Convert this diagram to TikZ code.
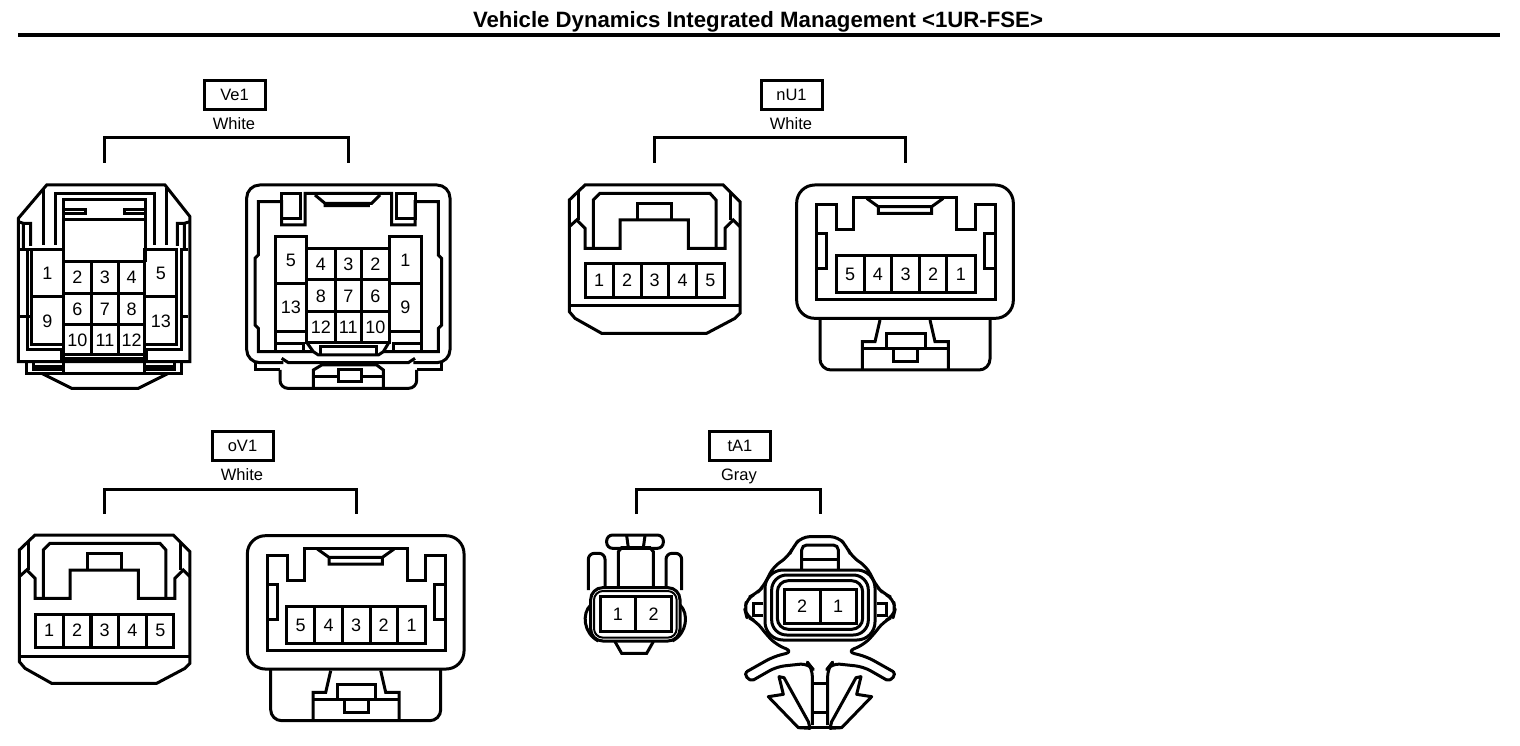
\documentclass[tikz,border=0pt]{standalone}
\usepackage{fontspec}
\setmainfont{Liberation Sans}
\newcommand\cellbox[5]{\draw[ln] (#1,#2) rectangle (#3,#4); \node[num] (c#5) at ({(#1+#3)/2},{(#2+#4)/2}) {#5};}
% five-pin plug, drawn in zoom units
\newcommand\plugfive[3]{\begin{scope}[shift={(#1,#2)},x=0.33333pt,y=-0.33333pt,name prefix=#3-]
\draw[ln] (75,45)--(490,45)--(540,95)--(540,430)--(525,445)--(440,490)--(125,490)--(45,445)--(28,425)--(28,90)--cycle;
\draw[ln] (28,408)--(540,408);
\draw[ln] (28,170)--(50,150)--(75,175)--(75,235)--(180,235)--(180,150)--(385,150)--(385,235)--(495,235)--(495,175)--(520,150)--(540,170);
\draw[ln] (55,62)--(55,150) (512,67)--(512,150);
\draw[ln] (100,235)--(100,90)--(120,70)--(450,70)--(468,90)--(468,235);
\draw[ln] (232,150)--(232,100)--(335,100)--(335,150);
\cellbox{75}{282}{160}{382}{1}\cellbox{160}{282}{243}{382}{2}\cellbox{243}{282}{325}{382}{3}\cellbox{325}{282}{410}{382}{4}\cellbox{410}{282}{492}{382}{5}
\end{scope}}
% five-pin socket
\newcommand\sockfive[3]{\begin{scope}[shift={(#1,#2)},x=0.33333pt,y=-0.33333pt,name prefix=#3-]
\draw[ln,rounded corners=18pt] (35,45) rectangle (685,445);
\draw[ln] (95,105)--(155,105)--(155,178)--(205,178)--(205,82)--(515,82)--(515,178)--(570,178)--(570,105)--(630,105)--(630,390)--(95,390)--cycle;
\draw[ln] (95,190)--(125,190)--(125,295)--(95,295) (630,190)--(597,190)--(597,295)--(630,295);
\draw[ln] (245,85)--(280,110)--(440,110)--(475,85) (280,110)--(280,130)--(440,130)--(440,110);
\cellbox{153}{258}{237}{368}{5}\cellbox{237}{258}{320}{368}{4}\cellbox{320}{258}{403}{368}{3}\cellbox{403}{258}{485}{368}{2}\cellbox{485}{258}{570}{368}{1}
\draw[ln,rounded corners=11pt] (105,445)--(105,600)--(615,600)--(615,445);
\draw[ln] (285,450)--(270,515)--(232,515)--(232,600) (435,450)--(450,515)--(490,515)--(490,600);
\draw[ln] (232,535)--(490,535) (305,535)--(305,490)--(420,490)--(420,535) (325,535)--(325,575)--(398,575)--(398,535);
\end{scope}}
\tikzset{
 ln/.style={line width=3pt,line join=miter},
 num/.style={font=\fontsize{18}{18}\selectfont,inner sep=0pt},
 tag/.style={draw,line width=3pt,minimum width=61pt,minimum height=29pt,inner sep=0pt,font=\fontsize{16.5}{18}\selectfont},
 col/.style={inner sep=0pt,font=\fontsize{16.5}{18}\selectfont},
 brk/.style={line width=3pt}
}
\begin{document}
\begin{tikzpicture}[x=1pt,y=-1pt]
\useasboundingbox (0,0) rectangle (1520,746);
\fill[white] (0,0) rectangle (1520,746);
\node[inner sep=0pt,font=\fontsize{22.2}{24}\selectfont\bfseries] (title) at (758,22) {Vehicle Dynamics Integrated Management <1UR-FSE>};
\coordinate (ruleL) at (18,35); \coordinate (ruleR) at (1500,35);
\draw[line width=4.5pt] (ruleL)--(ruleR);
% tags
\node[tag] (ve) at (234.5,95) {Ve1}; \node[col] (vew) at (234,123.5) {White};
\node[tag] (nu) at (791.5,95) {nU1}; \node[col] (nuw) at (791,123.5) {White};
\node[tag] (ov) at (242.5,446) {oV1}; \node[col] (ovw) at (242,474.5) {White};
\node[tag] (ta) at (740,446) {tA1}; \node[col] (tag) at (739,476) {Gray};
% brackets
\draw[brk] (104,163)--(104,138)--(348,138)--(348,163);
\draw[brk] (654,163)--(654,138)--(905,138)--(905,163);
\draw[brk] (104,514)--(104,489)--(356,489)--(356,514);
\draw[brk] (636,514)--(636,489)--(820,489)--(820,514);
% Ve1 left
\begin{scope}[shift={(10,170)},x=0.33333pt,y=-0.33333pt,name prefix=a-]
\draw[ln] (110,45)--(465,45)--(540,140)--(540,575)--(25,575)--(25,145)--cycle;
\draw[ln] (100,55)--(100,225) (470,55)--(470,225);
\draw[ln] (135,225)--(135,70)--(435,70)--(435,225);
\draw[ln] (160,275)--(160,90)--(408,90)--(408,275);
\draw[ln] (160,118)--(225,118)--(225,130)--(160,130) (408,118)--(345,118)--(345,130)--(408,130);
\draw[ln] (160,148)--(408,148);
\draw[ln] (25,155)--(40,160)--(40,240) (40,160)--(62,160)--(62,228);
\draw[ln] (540,155)--(523,160)--(523,240) (523,160)--(502,160)--(502,228);
\draw[ln] (30,240)--(60,240) (510,240)--(535,240) (30,440)--(60,440) (510,440)--(535,440);
\draw[ln] (52,240)--(52,540)--(155,540)--(155,565)--(410,565)--(410,540)--(515,540)--(515,240);
\cellbox{65}{240}{160}{380}{1}\cellbox{65}{380}{160}{525}{9}
\cellbox{160}{275}{245}{370}{2}\cellbox{245}{275}{325}{370}{3}\cellbox{325}{275}{405}{370}{4}
\cellbox{160}{370}{245}{465}{6}\cellbox{245}{370}{325}{465}{7}\cellbox{325}{370}{405}{465}{8}
\cellbox{160}{465}{245}{555}{10}\cellbox{245}{465}{325}{555}{11}\cellbox{325}{465}{405}{555}{12}
\cellbox{405}{240}{500}{380}{5}\cellbox{405}{380}{500}{525}{13}
\draw[ln] (50,575)--(50,610)--(515,610)--(515,575) (70,575)--(70,600)--(160,600) (70,590)--(160,590) (495,575)--(495,600)--(405,600) (495,590)--(405,590);
\draw[ln] (160,555)--(160,610) (405,555)--(405,610);
\draw[ln] (95,610)--(185,655)--(385,655)--(475,610);
\end{scope}
% Ve1 right
\begin{scope}[shift={(240,170)},x=0.33333pt,y=-0.33333pt,name prefix=b-]
\draw[ln,rounded corners=13pt] (130,578)--(20,578)--(20,45)--(630,45)--(630,578)--(520,578);
\draw[ln] (220,545)--(55,545)--(55,475)--(45,465)--(45,265)--(55,255)--(55,95)--(125,95)--(125,165)--(195,165)--(195,70)--(455,70)--(455,165)--(525,165)--(525,95)--(595,95)--(595,255)--(605,265)--(605,465)--(595,475)--(595,545)--(430,545);
\draw[ln] (125,70)--(180,70)--(180,145)--(125,145)--cycle (470,70)--(525,70)--(525,145)--(470,145)--cycle;
\draw[ln] (225,75)--(255,100)--(395,100)--(420,75) (255,100)--(255,107)--(385,107)--(385,100);
\cellbox{105}{200}{200}{340}{5}\cellbox{105}{340}{200}{485}{13}
\cellbox{200}{235}{285}{330}{4}\cellbox{285}{235}{365}{330}{3}\cellbox{365}{235}{447}{330}{2}
\cellbox{200}{330}{285}{425}{8}\cellbox{285}{330}{365}{425}{7}\cellbox{365}{330}{447}{425}{6}
\cellbox{200}{425}{285}{517}{12}\cellbox{285}{425}{365}{517}{11}\cellbox{365}{425}{447}{517}{10}
\cellbox{447}{200}{545}{340}{1}\cellbox{447}{340}{545}{485}{9}
\draw[ln] (105,485)--(105,545) (105,520)--(190,520)--(190,545) (545,485)--(545,545) (545,520)--(460,520)--(460,545);
\draw[ln] (200,517)--(220,545)--(235,555)--(415,555)--(430,545)--(447,517);
\draw[ln] (240,555)--(240,530)--(410,530)--(410,555);
\draw[ln] (45,578)--(45,600)--(120,600);
\draw[ln] (605,578)--(605,600)--(530,600);
\draw[ln,rounded corners=8pt] (120,600)--(120,655)--(530,655)--(530,600);
\draw[ln] (125,565)--(145,578)--(505,578)--(525,565);
\draw[ln] (220,655)--(220,600)--(245,585)--(410,585)--(430,600)--(430,655);
\draw[ln] (220,620)--(295,620) (430,620)--(365,620) (295,600)--(295,635)--(365,635)--(365,600)--cycle;
\end{scope}
\plugfive{560}{170}{c}
\sockfive{785}{170}{d}
\plugfive{10}{520}{e}
\sockfive{235.7}{520.7}{f}
% tA1 left
\begin{scope}[shift={(570,525)},x=0.33333pt,y=-0.33333pt,name prefix=g-]
\draw[ln,rounded corners=6pt] (110,30) rectangle (280,70);
\draw[ln] (170,32)--(175,68) (225,32)--(220,68);
\draw[ln] (145,190)--(145,80)--(155,68)--(240,68)--(250,80)--(250,190);
\draw[ln,rounded corners=6pt] (55,195)--(55,85)--(105,85)--(105,190);
\draw[ln,rounded corners=6pt] (288,190)--(288,85)--(335,85)--(335,195);
\draw[ln,rounded corners=12pt] (62,188) rectangle (330,348);
\draw[line width=2pt,rounded corners=9pt] (72,198) rectangle (320,338);
\draw[ln] (62,240)..controls (35,265) and (40,325)..(85,348);
\draw[ln] (330,240)..controls (357,265) and (352,325)..(307,348);
\draw[ln] (135,350)--(155,385)--(230,385)--(250,350);
\cellbox{90}{215}{197}{320}{1}\cellbox{197}{215}{305}{320}{2}
\end{scope}
% tA1 right
\begin{scope}[shift={(730,525)},x=0.33333pt,y=-0.33333pt,name prefix=h-]
\draw[ln,line join=round,rounded corners=8pt] (270,35)--(325,35)--(350,65)--(365,95)--(410,125)--(440,185)--(460,205)--(490,220)--(495,255)--(490,275)--(460,290)--(430,330)--(400,360)--(350,380)--(410,395)--(490,440);
\draw[ln,line join=round,rounded corners=8pt] (270,35)--(215,35)--(190,65)--(175,95)--(130,125)--(100,185)--(80,205)--(50,220)--(45,255)--(50,275)--(80,290)--(110,330)--(140,360)--(190,380)--(130,395)--(50,440);
\draw[ln,line cap=round,line join=round] (490,440)..controls (500,447) and (485,470)..(470,465);
\draw[ln,line cap=round,line join=round] (50,440)..controls (40,447) and (55,470)..(70,465);
\draw[ln,line join=round,rounded corners=8pt] (470,465)--(400,425)--(305,415)--(293,430)--(293,600);
\draw[ln,line join=round,rounded corners=8pt] (70,465)--(140,425)--(235,415)--(247,430)--(247,600);
\draw[ln,rounded corners=5pt] (215,135)--(215,60)--(325,60)--(325,135);
\draw[ln] (215,103)--(325,103);
\draw[ln] (100,235)--(70,235)--(70,270)--(100,270) (440,235)--(470,235)--(470,270)--(440,270);
\draw[ln,rounded corners=18pt] (105,135) rectangle (435,345);
\draw[ln,rounded corners=15pt] (125,150) rectangle (415,330);
\draw[ln,rounded corners=11pt] (142,167) rectangle (398,313);
\cellbox{162}{192}{270}{295}{2}\cellbox{270}{192}{378}{295}{1}
\draw[ln] (247,475)--(293,475) (247,562)--(293,562);
\draw[ln,line join=round] (147,455)--(162,458)--(235,590)--(240,610)--(205,608)--(115,515)--(160,508)--cycle;
\draw[ln,line join=round] (393,455)--(378,458)--(305,590)--(300,610)--(335,608)--(425,515)--(380,508)--cycle;
\draw[ln] (205,608)--(335,608);
\end{scope}
\end{tikzpicture}
\end{document}
